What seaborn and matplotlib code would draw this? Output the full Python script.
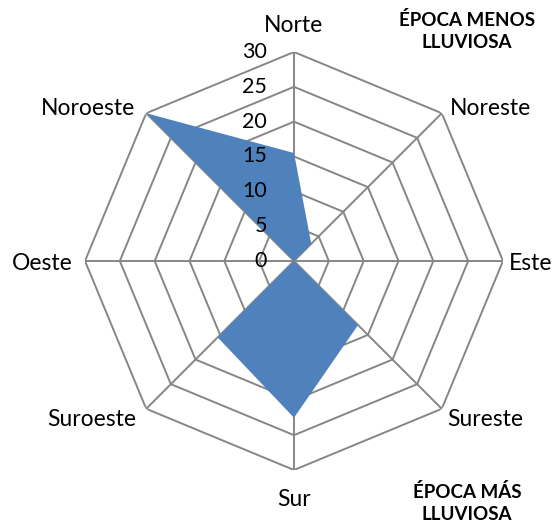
import numpy as np
import matplotlib
matplotlib.use("Agg")
import matplotlib.pyplot as plt
import seaborn as sns

# Data
categories = ["Norte", "Noreste", "Este", "Sureste", "Sur", "Suroeste", "Oeste", "Noroeste"]
values = [15.5, 3.5, 0, 13, 22.5, 15.5, 0, 30]
r_ticks = [0, 5, 10, 15, 20, 25, 30]
title_top = "ÉPOCA MENOS\nLLUVIOSA"
title_bottom = "ÉPOCA MÁS\nLLUVIOSA"

sns.set_style("white")
plt.rcParams["font.family"] = ["Lato", "DejaVu Sans"]
plt.rcParams["text.color"] = "black"

W, H, DPI = 553, 525, 100
fig = plt.figure(figsize=(W / DPI, H / DPI), dpi=DPI)
cx, cy, R = 294, 264, 209  # center (from bottom) and radius in pixels
ax = fig.add_axes([(cx - R) / W, (cy - R) / H, 2 * R / W, 2 * R / H], projection="polar")
ax.set_theta_zero_location("N")
ax.set_theta_direction(-1)
ax.set_ylim(0, r_ticks[-1])
ax.grid(False)
ax.spines["polar"].set_visible(False)
ax.set_xticks([])
ax.set_yticks([])
ax.patch.set_alpha(0)

n = len(categories)
angles = np.linspace(0, 2 * np.pi, n, endpoint=False)
closed = np.concatenate([angles, angles[:1]])

grid_color = "#868686"
# polygon rings
for t in r_ticks[1:]:
    ax.plot(closed, [t] * (n + 1), color=grid_color, lw=1.4, zorder=1)
# spokes
for a in angles:
    ax.plot([a, a], [0, r_ticks[-1]], color=grid_color, lw=1.4, zorder=1)

# data polygon
vals = np.array(values + values[:1], dtype=float)
ax.fill(closed, vals, color="#4F81BD", lw=0, zorder=2)

# radial tick labels along the Norte axis
for t in r_ticks:
    ax.annotate(str(t), xy=(0, t), xytext=(-27, 0), textcoords="offset pixels",
                ha="right", va="center", fontsize=15.5, color="black", zorder=3)

# category labels
offsets = {
    "Norte": (0, 27, "center", "center"),
    "Noreste": (8, 5, "left", "center"),
    "Este": (6, -2, "left", "center"),
    "Sureste": (5, -11, "left", "center"),
    "Sur": (0, -30, "center", "center"),
    "Suroeste": (-10, -11, "right", "center"),
    "Oeste": (-12, -2, "right", "center"),
    "Noroeste": (-11, 5, "right", "center"),
}
for a, c in zip(angles, categories):
    dx, dy, ha, va = offsets[c]
    ax.annotate(c, xy=(a, r_ticks[-1]), xytext=(dx, dy), textcoords="offset pixels",
                ha=ha, va=va, fontsize=16.5, color="black", annotation_clip=False)

fig.text(467 / W, 1 - 31 / H, title_top, ha="center", va="center", color="black",
         fontsize=13.5, fontweight="bold", linespacing=1.3)
fig.text(467 / W, 1 - 503 / H, title_bottom, ha="center", va="center", color="black",
         fontsize=13.5, fontweight="bold", linespacing=1.3)

fig.savefig("out.png", dpi=DPI)
